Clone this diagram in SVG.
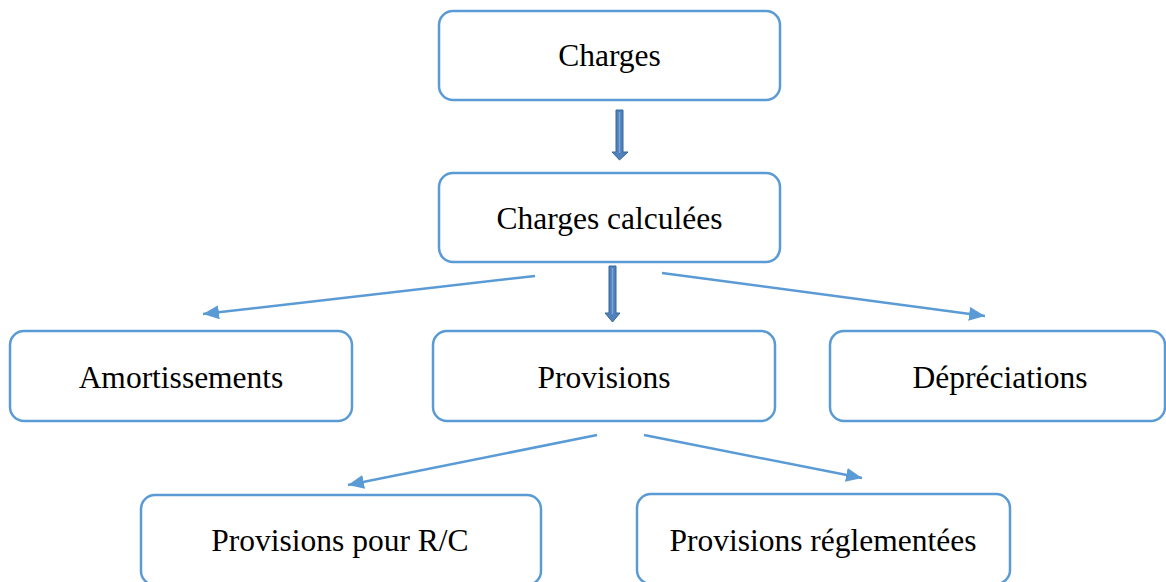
<svg xmlns="http://www.w3.org/2000/svg" width="1166" height="582" viewBox="0 0 1166 582">
  <style>
    .box { fill: #ffffff; stroke: #5b9bd5; stroke-width: 2.5; }
    .lbl { font-family: "Liberation Serif", "Times New Roman", serif; font-size: 31.5px; fill: #000000; text-anchor: middle; }
    .conn { stroke: #5b9bd5; stroke-width: 2.5; fill: none; marker-end: url(#ah); }
    .blk { fill: #4f81bd; stroke: #3a6699; stroke-width: 1; }
    .blk-hi { stroke: #7aa6d8; stroke-width: 1.5; fill: none; }
  </style>
  <defs>
    <marker id="ah" markerUnits="userSpaceOnUse" markerWidth="18" markerHeight="14" refX="16" refY="7" orient="auto">
      <path d="M0,0 L16,7 L0,14 Z" fill="#5b9bd5"/>
    </marker>
  </defs>
  <rect width="1166" height="582" fill="#ffffff"/>

  <g id="connectors">
    <g id="blk1">
      <polygon class="blk" points="616,110 623,110 623,152 628,152 619.5,160 612,152 616,152"/>
      <line class="blk-hi" x1="619.5" y1="112" x2="619.5" y2="153"/>
    </g>
    <g id="blk2">
      <polygon class="blk" points="609,266 616,266 616,313 620,313 612.5,322 605,313 609,313"/>
      <line class="blk-hi" x1="612.5" y1="268" x2="612.5" y2="314"/>
    </g>
    <line class="conn" x1="535" y1="276" x2="203" y2="314"/>
    <line class="conn" x1="662" y1="273" x2="985" y2="316"/>
    <line class="conn" x1="597" y1="435" x2="348" y2="485"/>
    <line class="conn" x1="644" y1="435" x2="862" y2="478"/>
  </g>

  <g id="charges">
    <rect class="box" x="439" y="11" width="341" height="89" rx="14"/>
    <text class="lbl" x="609.5" y="66">Charges</text>
  </g>
  <g id="charges-calculees">
    <rect class="box" x="439" y="173" width="341" height="89" rx="14"/>
    <text class="lbl" x="609.5" y="229">Charges calculées</text>
  </g>
  <g id="amortissements">
    <rect class="box" x="10" y="331" width="342" height="90" rx="14"/>
    <text class="lbl" x="181" y="388">Amortissements</text>
  </g>
  <g id="provisions">
    <rect class="box" x="433" y="331" width="342" height="90" rx="14"/>
    <text class="lbl" x="604" y="388">Provisions</text>
  </g>
  <g id="depreciations">
    <rect class="box" x="830" y="331" width="335" height="90" rx="14"/>
    <text class="lbl" x="1000" y="388">Dépréciations</text>
  </g>
  <g id="provisions-rc">
    <rect class="box" x="141" y="495" width="400" height="90" rx="14"/>
    <text class="lbl" x="340" y="551">Provisions pour R/C</text>
  </g>
  <g id="provisions-reglementees">
    <rect class="box" x="637" y="494" width="373" height="90" rx="14"/>
    <text class="lbl" x="823" y="551">Provisions réglementées</text>
  </g>
</svg>
